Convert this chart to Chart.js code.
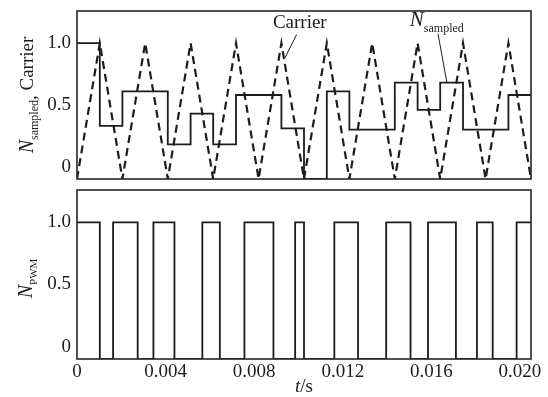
<!DOCTYPE html>
<html>
<head>
<meta charset="utf-8">
<script src="https://cdn.jsdelivr.net/npm/chart.js@4.4.0/dist/chart.umd.min.js"></script>
<style>
  html, body { margin: 0; padding: 0; background: #fff; }
  #wrap { position: relative; width: 548px; height: 397px; }
  #topo { position: absolute; left: 0; top: 0; }
  #baixo { position: absolute; left: 0; top: 180px; }
</style>
</head>
<body>
<div id="wrap">
  <canvas id="topo" width="548" height="190"></canvas>
  <canvas id="baixo" width="548" height="217"></canvas>
</div>
<script>
// DADOS (tempo em s)

// vertices da portadora = instantes de amostragem
const tempoCarrier = [0, 0.00103, 0.00205, 0.00308, 0.0041, 0.00513, 0.00615, 0.00718, 0.0082, 0.00923, 0.01025,
  0.01128, 0.0123, 0.01333, 0.01435, 0.01538, 0.0164, 0.01743, 0.01845, 0.01948, 0.0205];
const carrier = [-0.1, 1, -0.1, 1, -0.1, 1, -0.1, 1, -0.1, 1, -0.1, 1, -0.1, 1, -0.1, 1, -0.1, 1, -0.1, 1, -0.1];

// valor amostrado, segurado ate o proximo instante
const nSampled = [1.0, 0.33, 0.61, 0.61, 0.18, 0.43, 0.18, 0.58, 0.58, 0.31,
  -0.1, 0.61, 0.30, 0.30, 0.68, 0.46, 0.68, 0.30, 0.30, 0.58];

// saida PWM: instantes de comutacao e nivel depois de cada um
const tempoPwm = [0, 0.00103, 0.00163, 0.00274, 0.00345, 0.0044, 0.00566, 0.00645, 0.00756, 0.00887, 0.00985,
  0.01025, 0.01162, 0.01269, 0.01396, 0.01506, 0.01585, 0.01711, 0.01806, 0.01877, 0.01985, 0.0205];
const nPwm = [1, -0.1, 1, -0.1, 1, -0.1, 1, -0.1, 1, -0.1, 1, -0.1, 1, -0.1, 1, -0.1, 1, -0.1, 1, -0.1, 1, 1];

const xTicks = [0, 0.004, 0.008, 0.012, 0.016, 0.020];
const xTickLabels = ['0', '0.004', '0.008', '0.012', '0.016', '0.020'];
const yTicks = [0, 0.5, 1];
const yTickLabels = ['0', '0.5', '1.0'];

const SERIF = '"Liberation Serif", "Times New Roman", serif';
const PRETO = '#1c1c1c';

Chart.defaults.font.family = SERIF;
Chart.defaults.font.size = 19;
Chart.defaults.color = PRETO;


// texto com subscrito, opcionalmente girado
function escrever(ctx, partes, x, y, girar) {
  ctx.save();
  ctx.fillStyle = PRETO;
  ctx.textBaseline = 'alphabetic';
  ctx.textAlign = 'left';
  let total = 0;
  partes.forEach(p => { ctx.font = p.font; p.w = ctx.measureText(p.t).width; total += p.w; });
  ctx.translate(x, y);
  let cx = 0;
  if (girar) {
    ctx.rotate(-Math.PI / 2);
    cx = -total / 2;
  }
  partes.forEach(p => {
    ctx.font = p.font;
    ctx.fillText(p.t, cx, p.dy || 0);
    cx += p.w;
  });
  ctx.restore();
}

function linha(ctx, x1, y1, x2, y2) {
  ctx.save();
  ctx.strokeStyle = PRETO;
  ctx.lineWidth = 1;
  ctx.beginPath();
  ctx.moveTo(x1, y1);
  ctx.lineTo(x2, y2);
  ctx.stroke();
  ctx.restore();
}

const moldura = {
  id: 'moldura',
  afterDatasetsDraw(chart) {
    const { ctx, chartArea: a } = chart;
    ctx.save();
    ctx.strokeStyle = '#262626';
    ctx.lineWidth = 1.6;
    ctx.strokeRect(a.left, a.top, a.right - a.left, a.bottom - a.top);
    ctx.restore();
  }
};

const eixoY = {
  min: -0.1,
  max: 1.26,
  grid: { display: false, drawTicks: false },
  border: { display: false },
  ticks: {
    padding: 6,
    callback: (v, i) => yTickLabels[i]
  },
  afterBuildTicks: s => { s.ticks = yTicks.map(v => ({ value: v })); },
  afterFit: s => { s.width = 77; s.paddingTop = 0; s.paddingBottom = 0; }
};


// GRAFICO DE CIMA: portadora e valor amostrado

const anotTopo = {
  id: 'anotTopo',
  afterDraw(chart) {
    const { ctx } = chart;
    const x = chart.scales.x, y = chart.scales.y;

    escrever(ctx, [
      { t: 'N', font: 'italic 20px ' + SERIF },
      { t: 'sampled', font: '12px ' + SERIF, dy: 5 },
      { t: ',', font: '19px ' + SERIF, dy: 3 },
      { t: ' Carrier', font: '19px ' + SERIF }
    ], 33, (chart.chartArea.top + chart.chartArea.bottom) / 2, true);

    // "Carrier" e seta
    ctx.save();
    ctx.font = '19px ' + SERIF;
    ctx.fillStyle = PRETO;
    ctx.textAlign = 'center';
    ctx.textBaseline = 'middle';
    ctx.fillText('Carrier', x.getPixelForValue(0.01006), y.getPixelForValue(1.159));
    ctx.restore();
    linha(ctx, x.getPixelForValue(0.00992), y.getPixelForValue(1.07),
      x.getPixelForValue(0.00938), y.getPixelForValue(0.877));

    // "N sampled" e seta
    escrever(ctx, [
      { t: 'N', font: 'italic 21px ' + SERIF },
      { t: 'sampled', font: '12px ' + SERIF, dy: 6 }
    ], x.getPixelForValue(0.01503), y.getPixelForValue(1.135), false);
    linha(ctx, x.getPixelForValue(0.0163), y.getPixelForValue(1.076),
      x.getPixelForValue(0.0167), y.getPixelForValue(0.683));
  }
};

const pontosSampled = nSampled.map((v, i) => ({ x: tempoCarrier[i], y: v }));
pontosSampled.push({ x: tempoCarrier[tempoCarrier.length - 1], y: nSampled[nSampled.length - 1] });

new Chart(document.getElementById('topo'), {
  type: 'line',
  data: {
    datasets: [
      {
        label: 'Carrier',
        data: tempoCarrier.map((t, i) => ({ x: t, y: carrier[i] })),
        borderColor: PRETO,
        borderWidth: 2.2,
        borderDash: [8, 5],
        pointRadius: 0,
        tension: 0
      },
      {
        label: 'N sampled',
        data: pontosSampled,
        borderColor: PRETO,
        borderWidth: 1.8,
        pointRadius: 0,
        stepped: 'before'
      }
    ]
  },
  options: {
    responsive: false,
    animation: false,
    layout: { padding: { top: 11, right: 17, bottom: 11, left: 0 } },
    scales: {
      x: { type: 'linear', min: 0, max: 0.0205, display: false },
      y: eixoY
    },
    plugins: { legend: { display: false }, tooltip: { enabled: false } }
  },
  plugins: [moldura, anotTopo]
});


// GRAFICO DE BAIXO: PWM

const anotBaixo = {
  id: 'anotBaixo',
  afterDraw(chart) {
    const { ctx, chartArea: a } = chart;
    escrever(ctx, [
      { t: 'N', font: 'italic 20px ' + SERIF },
      { t: 'PWM', font: '11px ' + SERIF, dy: 5 }
    ], 32, (a.top + a.bottom) / 2 + 4, true);

    // titulo do eixo x: t/s
    const partes = [
      { t: 't', font: 'italic 19px ' + SERIF },
      { t: '/s', font: '19px ' + SERIF }
    ];
    let w = 0;
    partes.forEach(p => { ctx.font = p.font; w += ctx.measureText(p.t).width; });
    escrever(ctx, partes, (a.left + a.right) / 2 - w / 2, 212, false);
  }
};

new Chart(document.getElementById('baixo'), {
  type: 'line',
  data: {
    datasets: [{
      label: 'N PWM',
      data: tempoPwm.map((t, i) => ({ x: t, y: nPwm[i] })),
      borderColor: PRETO,
      borderWidth: 1.8,
      pointRadius: 0,
      stepped: 'before'
    }]
  },
  options: {
    responsive: false,
    animation: false,
    layout: { padding: { top: 10, right: 17, bottom: 0, left: 0 } },
    scales: {
      x: {
        type: 'linear',
        min: 0,
        max: 0.0205,
        grid: { display: false, drawTicks: false },
        border: { display: false },
        ticks: {
          padding: 2,
          maxRotation: 0,
          autoSkip: false,
          callback: (v, i) => xTickLabels[i]
        },
        afterBuildTicks: s => { s.ticks = xTicks.map(v => ({ value: v })); },
        afterFit: s => { s.height = 38; s.paddingLeft = 0; s.paddingRight = 0; }
      },
      y: eixoY
    },
    plugins: { legend: { display: false }, tooltip: { enabled: false } }
  },
  plugins: [moldura, anotBaixo]
});
</script>
</body>
</html>
